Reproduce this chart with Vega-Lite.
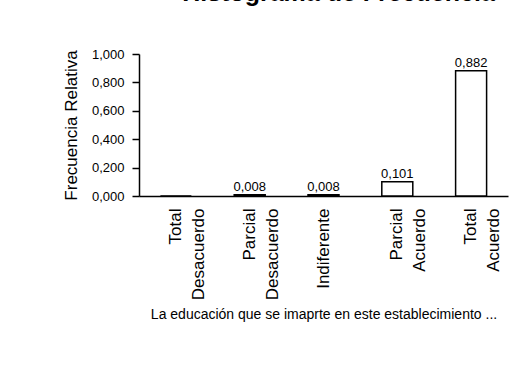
{
  "$schema": "https://vega.github.io/schema/vega-lite/v6.json",
  "width": 369,
  "height": 142,
  "autosize": "none",
  "padding": {"left": 139, "top": 54, "right": 15, "bottom": 171},
  "background": "white",
  "title": {
    "text": "Histograma de Frecuencia",
    "font": "Liberation Sans",
    "fontSize": 25,
    "fontWeight": "bold",
    "color": "black",
    "baseline": "alphabetic",
    "offset": 22,
    "anchor": "middle",
    "dx": 15
  },
  "config": {
    "view": {"stroke": null},
    "locale": {
      "number": {"decimal": ",", "thousands": ".", "grouping": [3], "currency": ["", " €"]}
    },
    "font": "Liberation Sans"
  },
  "data": {
    "values": [
      {"categoria": "Total\nDesacuerdo", "frecuencia": 0.0},
      {"categoria": "Parcial\nDesacuerdo", "frecuencia": 0.008},
      {"categoria": "Indiferente", "frecuencia": 0.008},
      {"categoria": "Parcial\nAcuerdo", "frecuencia": 0.101},
      {"categoria": "Total\nAcuerdo", "frecuencia": 0.882}
    ]
  },
  "encoding": {
    "x": {
      "field": "categoria",
      "type": "nominal",
      "sort": null,
      "scale": {"paddingInner": 0, "paddingOuter": 0},
      "axis": {
        "title": "La educación que se imaprte en este establecimiento ...",
        "titleFont": "Liberation Sans",
        "titleFontSize": 14,
        "titleFontWeight": "normal",
        "titleColor": "black",
        "titlePadding": 8,
        "labelExpr": "split(datum.label, '\\n')",
        "labelAngle": -90,
        "labelAlign": "right",
        "labelBaseline": "middle",
        "labelFontSize": 17,
        "labelColor": "black",
        "labelPadding": 12,
        "labelLineHeight": 23,
        "ticks": false,
        "domainColor": "black",
        "domainWidth": 1.5
      }
    },
    "y": {
      "field": "frecuencia",
      "type": "quantitative",
      "scale": {"domain": [0, 1]},
      "axis": {
        "title": "Frecuencia Relativa",
        "titleFont": "Liberation Sans",
        "titleFontSize": 17,
        "titleFontWeight": "normal",
        "titleColor": "black",
        "titlePadding": 11,
        "values": [0, 0.2, 0.4, 0.6, 0.8, 1],
        "format": ".3f",
        "labelFontSize": 13,
        "labelColor": "black",
        "labelPadding": 8,
        "grid": false,
        "tickColor": "black",
        "tickSize": 7,
        "tickWidth": 1.5,
        "domainColor": "black",
        "domainWidth": 1.5
      }
    }
  },
  "layer": [
    {
      "mark": {"type": "bar", "fill": "white", "stroke": "black", "strokeWidth": 1.5, "width": {"band": 0.42}}
    },
    {
      "transform": [{"filter": "datum.frecuencia > 0"}],
      "mark": {"type": "text", "baseline": "alphabetic", "dy": -4, "fontSize": 13, "color": "black"},
      "encoding": {
        "text": {"field": "frecuencia", "type": "quantitative", "format": ".3f"}
      }
    }
  ]
}
